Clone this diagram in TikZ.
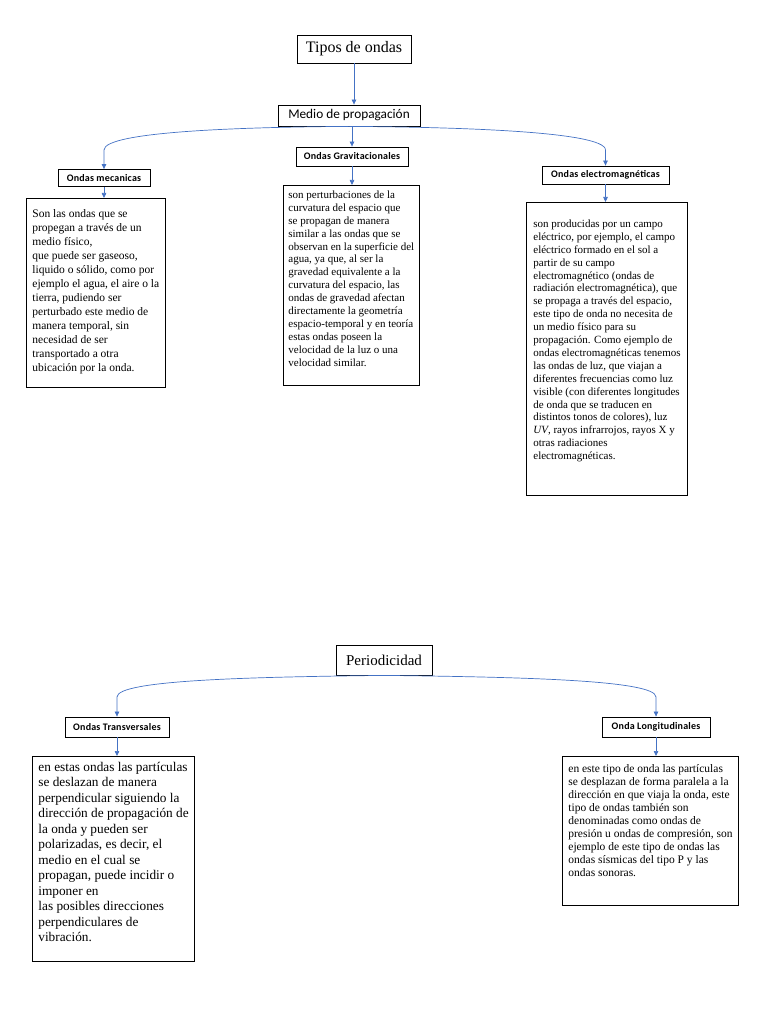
\documentclass[tikz,border=0pt]{standalone}
\usepackage{fontspec}
\setmainfont{Liberation Serif}
\newfontfamily\carl{Carlito}
\newfontfamily\carlsp[LetterSpace=2]{Carlito}
\usetikzlibrary{arrows.meta}
\definecolor{linkblue}{HTML}{4472C4}
\newcommand\TXL[1]{\hbox{#1}}
\newcommand\FRST[1]{\rule{0pt}{#1}}
\begin{document}
\begin{tikzpicture}[x=1pt,y=-1pt,
  lbl/.style={draw, line width=0.8pt, inner sep=0pt, font=\carlsp\bfseries\fontsize{10}{12}\selectfont},
  ttl/.style={draw, line width=0.8pt, inner sep=0pt},
  tbox/.style={draw, line width=0.8pt, anchor=north west, inner xsep=6pt, inner ysep=0pt},
  conn/.style={draw=linkblue, line width=0.7pt, -{Triangle[length=5pt,width=4.5pt]}}]
\useasboundingbox (0,0) rectangle (768,1024);

% ---------- top tree ----------
\node[ttl, minimum width=114pt, minimum height=28pt, font=\fontsize{16}{18}\selectfont] (tipos) at (354,49) {Tipos de ondas};
\node[ttl, minimum width=142pt, minimum height=21pt, font=\carl\fontsize{13.3}{15}\selectfont] (medio) at (349,115.5) {Medio de propagación};
\node[lbl, minimum width=112pt, minimum height=19pt] (grav) at (352,156.5) {Ondas Gravitacionales};
\node[lbl, minimum width=92pt, minimum height=17pt] (mec) at (104,178) {Ondas mecanicas};
\node[lbl, minimum width=127pt, minimum height=18pt] (elec) at (605.5,175) {Ondas electromagnéticas};

\node[tbox, font=\fontsize{11.5}{14}\selectfont] (b1) at (26,198) {\parbox[c][189pt][t]{137pt}{%
\TXL{\FRST{19pt}Son las ondas que se}
\TXL{propegan a través de un}
\TXL{medio físico,}
\TXL{que puede ser gaseoso,}
\TXL{liquido o sólido, como por}
\TXL{ejemplo el agua, el aire o la}
\TXL{tierra, pudiendo ser}
\TXL{perturbado este medio de}
\TXL{manera temporal, sin}
\TXL{necesidad de ser}
\TXL{transportado a otra}
\TXL{ubicación por la onda.}}};

\node[tbox, inner xsep=5pt, font=\fontsize{11}{12.9}\selectfont] (b2) at (283,185) {\parbox[c][200pt][t]{129pt}{%
\TXL{\FRST{13pt}son perturbaciones de la}
\TXL{curvatura del espacio que}
\TXL{se propagan de manera}
\TXL{similar a las ondas que se}
\TXL{observan en la superficie del}
\TXL{agua, ya que, al ser la}
\TXL{gravedad equivalente a la}
\TXL{curvatura del espacio, las}
\TXL{ondas de gravedad afectan}
\TXL{directamente la geometría}
\TXL{espacio-temporal y en teoría}
\TXL{estas ondas poseen la}
\TXL{velocidad de la luz o una}
\TXL{velocidad similar.}}};

\node[tbox, inner xsep=7pt, font=\fontsize{11}{12.9}\selectfont] (b3) at (526,202) {\parbox[c][293pt][t]{144pt}{%
\TXL{\FRST{25pt}son producidas por un campo}
\TXL{eléctrico, por ejemplo, el campo}
\TXL{eléctrico formado en el sol a}
\TXL{partir de su campo}
\TXL{electromagnético (ondas de}
\TXL{radiación electromagnética), que}
\TXL{se propaga a través del espacio,}
\TXL{este tipo de onda no necesita de}
\TXL{un medio físico para su}
\TXL{propagación. Como ejemplo de}
\TXL{ondas electromagnéticas tenemos}
\TXL{las ondas de luz, que viajan a}
\TXL{diferentes frecuencias como luz}
\TXL{visible (con diferentes longitudes}
\TXL{de onda que se traducen en}
\TXL{distintos tonos de colores), luz}
\TXL{\textit{UV}, rayos infrarrojos, rayos X y}
\TXL{otras radiaciones}
\TXL{electromagnéticas.}}};

\draw[conn] (tipos.south) -- (tipos.south |- medio.north);
\draw[conn] (medio.south -| grav.north) -- (grav.north);
\draw[conn] (medio.south) .. controls (250,127) and (104,131) .. (104,150) -- (mec.north);
\draw[conn] (medio.south) .. controls (450,127) and (605.5,131) .. (605.5,150) -- (elec.north);
\draw[conn] (mec.south) -- (mec.south |- b1.north);
\draw[conn] (grav.south) -- (grav.south |- b2.north);
\draw[conn] (elec.south) -- (elec.south |- b3.north);

% ---------- bottom tree ----------
\node[ttl, minimum width=96pt, minimum height=30pt, font=\fontsize{15}{17}\selectfont] (perio) at (384,660) {Periodicidad};
\node[lbl, minimum width=104pt, minimum height=20pt] (trans) at (117,727) {Ondas Transversales};
\node[lbl, minimum width=108pt, minimum height=20pt] (longi) at (656,727) {Onda Longitudinales};

\node[tbox, font=\fontsize{13.3}{15.5}\selectfont] (bt) at (32,756) {\parbox[c][205pt][t]{162pt}{%
\TXL{\FRST{15pt}en estas ondas las partículas}
\TXL{se deslazan de manera}
\TXL{perpendicular siguiendo la}
\TXL{dirección de propagación de}
\TXL{la onda y pueden ser}
\TXL{polarizadas, es decir, el}
\TXL{medio en el cual se}
\TXL{propagan, puede incidir o}
\TXL{imponer en}
\TXL{las posibles direcciones}
\TXL{perpendiculares de}
\TXL{vibración.}}};

\node[tbox, font=\fontsize{11.5}{13}\selectfont] (bl) at (562,756) {\parbox[c][149pt][t]{170pt}{%
\TXL{\FRST{16pt}en este tipo de onda las partículas}
\TXL{se desplazan de forma paralela a la}
\TXL{dirección en que viaja la onda, este}
\TXL{tipo de ondas también son}
\TXL{denominadas como ondas de}
\TXL{presión u ondas de compresión, son}
\TXL{ejemplo de este tipo de ondas las}
\TXL{ondas sísmicas del tipo P y las}
\TXL{ondas sonoras.}}};

\draw[conn] (perio.south) .. controls (250,677) and (117,680) .. (117,697) -- (trans.north);
\draw[conn] (perio.south) .. controls (520,677) and (656,680) .. (656,697) -- (longi.north);
\draw[conn] (trans.south) -- (trans.south |- bt.north);
\draw[conn] (longi.south) -- (longi.south |- bl.north);
\end{tikzpicture}
\end{document}
